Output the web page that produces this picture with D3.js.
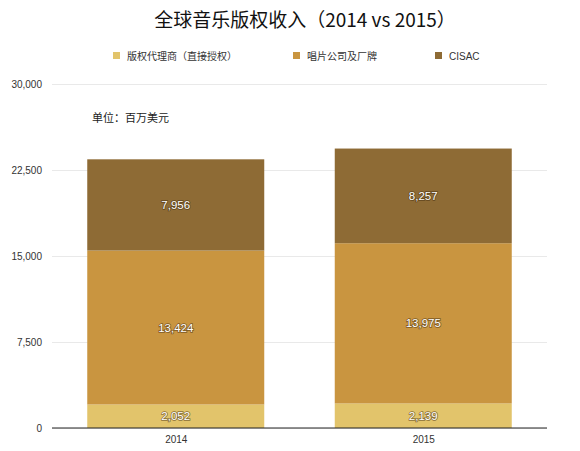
<!DOCTYPE html>
<html lang="zh">
<head>
<meta charset="UTF-8">
<title>全球音乐版权收入</title>
<script src="https://d3js.org/d3.v7.min.js"></script>
<style>
    body { margin: 0; background: #fff; font-family: "Noto Sans CJK SC", "Noto Sans", sans-serif; }
    .tick text { font-family: "Liberation Sans", Arial, sans-serif; font-size: 10px; fill: #333; }
    .val { font-family: "Liberation Sans", Arial, sans-serif; font-size: 11.5px; fill: #fff; text-anchor: middle;
           paint-order: stroke; stroke: rgba(60,40,10,0.55); stroke-width: 1.6px; }
</style>
</head>
<body>
<svg id="chart" width="580" height="451"></svg>
<script>
    const years = ["2014", "2015"];
    const seriesNames = ["版权代理商（直接授权）", "唱片公司及厂牌", "CISAC"];
    const agency = [2052, 2139];
    const labels = [13424, 13975];
    const cisac = [7956, 8257];
    const yTicks = [0, 7500, 15000, 22500, 30000];
    const colors = ["#e2c46b", "#c99540", "#8e6b35"];

    const rows = years.map((y, i) => ({ year: y, s0: agency[i], s1: labels[i], s2: cisac[i] }));
    const stack = d3.stack().keys(["s0", "s1", "s2"])(rows);

    const svg = d3.select("#chart");
    const x = d3.scalePoint().domain(years).range([52, 547]).padding(0.5);
    const y = d3.scaleLinear().domain([0, 30000]).range([428, 84]);
    const barW = 177;

    svg.append("text")
        .attr("x", 305).attr("y", 27)
        .attr("text-anchor", "middle")
        .attr("font-size", 19).attr("fill", "#111")
        .text("全球音乐版权收入（2014 vs 2015）");

    // legend
    const legX = [113, 293, 435];
    const leg = svg.append("g").selectAll("g").data(seriesNames).enter().append("g")
        .attr("transform", (d, i) => `translate(${legX[i]},52)`);
    leg.append("rect").attr("width", 7).attr("height", 7).attr("fill", (d, i) => colors[i]);
    leg.append("text").attr("x", 14).attr("y", 7.5).attr("font-size", 10).attr("fill", "#333")
        .attr("font-family", (d, i) => i === 2 ? "Liberation Sans, Arial, sans-serif" : null)
        .text(d => d);

    // grid + axis
    const yAxis = svg.append("g")
        .attr("transform", "translate(52,0)")
        .call(d3.axisLeft(y).tickValues(yTicks).tickFormat(d3.format(",")).tickSize(-495).tickPadding(10));
    yAxis.select(".domain").remove();
    yAxis.selectAll(".tick line").attr("stroke", "#e9e9e9");

    svg.append("text")
        .attr("x", 92).attr("y", 122)
        .attr("font-size", 11).attr("fill", "#222")
        .text("单位：百万美元");

    svg.append("g").selectAll("g").data(stack).enter().append("g")
        .attr("fill", (d, i) => colors[i])
        .selectAll("rect").data(d => d).enter().append("rect")
        .attr("x", d => x(d.data.year) - barW / 2)
        .attr("y", d => y(d[1]))
        .attr("width", barW)
        .attr("height", d => y(d[0]) - y(d[1]));

    svg.append("g").selectAll("g").data(stack).enter().append("g")
        .selectAll("text").data(d => d).enter().append("text")
        .attr("class", "val")
        .attr("x", d => x(d.data.year))
        .attr("y", d => (y(d[0]) + y(d[1])) / 2 + 4)
        .text(d => d3.format(",")(d[1] - d[0]));

    svg.append("line")
        .attr("x1", 52).attr("x2", 547)
        .attr("y1", y(0)).attr("y2", y(0))
        .attr("stroke", "#222").attr("stroke-width", 1);

    const xAxis = svg.append("g")
        .attr("transform", `translate(0,${y(0)})`)
        .call(d3.axisBottom(x).tickSize(0).tickPadding(8));
    xAxis.select(".domain").remove();
</script>
</body>
</html>
